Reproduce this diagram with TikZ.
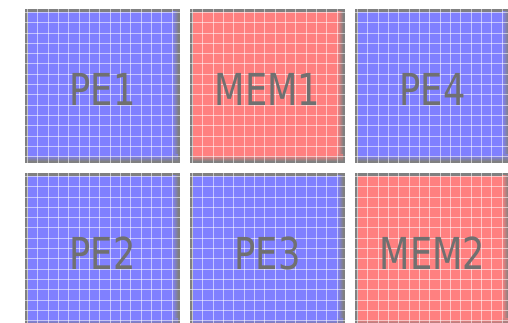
\documentclass[tikz,border=0pt]{standalone}
\usepackage{fontspec}
\setmainfont{DejaVu Sans}
\definecolor{peblue}{RGB}{128,128,255}
\definecolor{memred}{RGB}{255,128,128}
\definecolor{framegray}{RGB}{128,128,128}
\definecolor{labelgray}{RGB}{112,112,112}
\tikzset{
  cellbox/.style={minimum width=155pt, minimum height=154pt, inner sep=0pt, anchor=south west, fill=framegray, draw=none},
  celllabel/.style={text=labelgray, font=\fontsize{44}{44}\selectfont, xscale=0.8, inner sep=0pt},
  gridline/.style={white, opacity=0.55, line width=0.9pt},
}
\newcommand\mycell[5]{%
  \begin{scope}[shift={(#1,#2)}]
    \node[cellbox] (#5) at (0,0) {};
    \fill[#3] (3,8) rectangle (147,151);
    \shade[left color=#3, right color=framegray] (147,8) rectangle (153,151);
    \shade[top color=#3, bottom color=framegray] (3,2) rectangle (147,8);
    \shade[top color=#3!60!framegray, bottom color=framegray] (147,2) rectangle (153,8);
    \foreach \k in {0,...,14} {
      \draw[gridline] ({2.5+\k*10.33},0) -- ++(0,154);
      \draw[gridline] (0,{150.7-\k*10.33}) -- ++(155,0);
    }
    \node[celllabel] (#5-label) at (77.5,74) {#4};
  \end{scope}}
\begin{document}
\begin{tikzpicture}[x=1pt,y=1pt]
  \useasboundingbox (0,0) rectangle (508,323);
  \fill[white] (0,0) rectangle (508,323);
  \clip (0,0) rectangle (508,323);
  \mycell{25}{160}{peblue}{PE1}{pe1}
  \mycell{190}{160}{memred}{MEM1}{mem1}
  \mycell{355}{160}{peblue}{PE4}{pe4}
  \mycell{25}{-4}{peblue}{PE2}{pe2}
  \mycell{190}{-4}{peblue}{PE3}{pe3}
  \mycell{355}{-4}{memred}{MEM2}{mem2}
\end{tikzpicture}
\end{document}
